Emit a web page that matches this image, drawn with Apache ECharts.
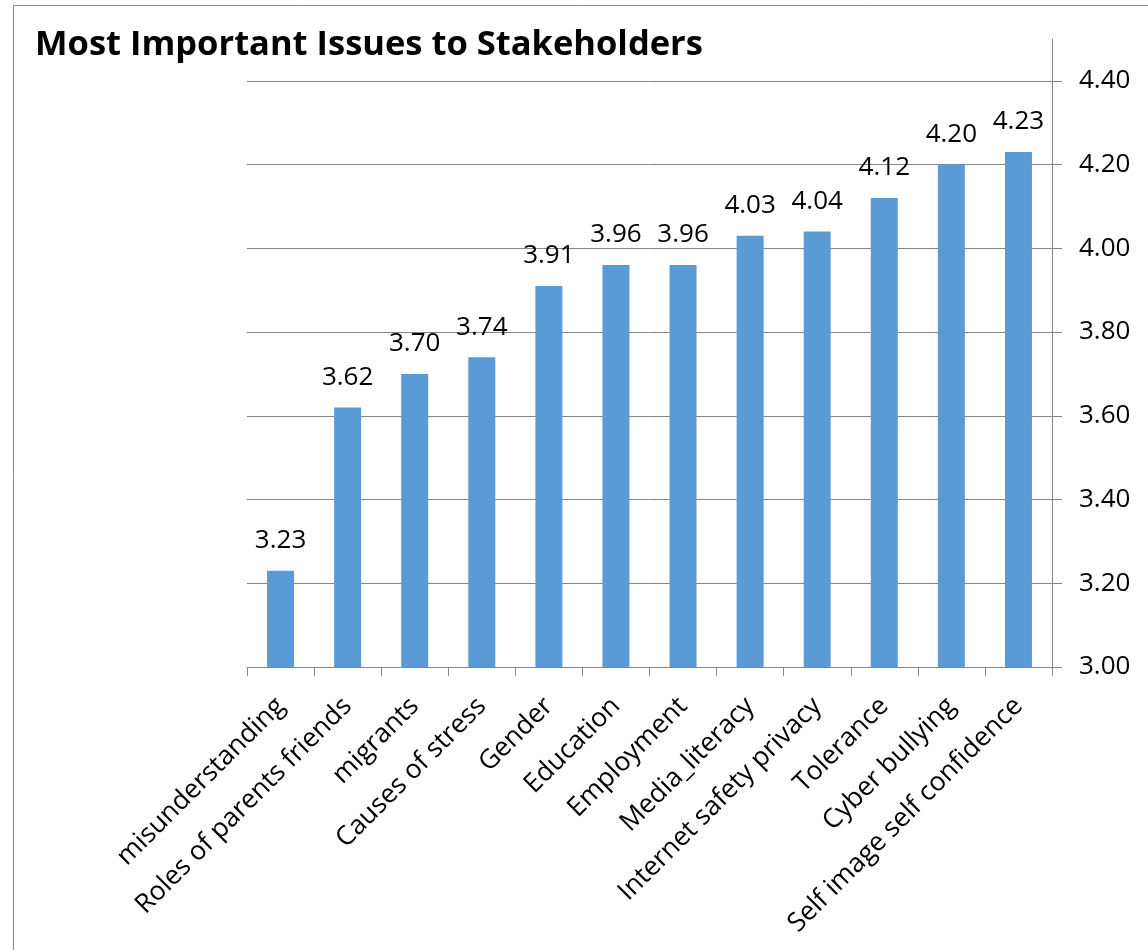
<!DOCTYPE html>
<html>
<head>
<meta charset="utf-8">
<script src="https://cdn.jsdelivr.net/npm/echarts@6/dist/echarts.min.js"></script>
<style>
html,body{margin:0;padding:0;background:#fff;}
#chart{width:1148px;height:950px;}
</style>
</head>
<body>
<div id="chart"></div>
<script>
const title = 'Most Important Issues to Stakeholders';
const categories = ['misunderstanding','Roles of parents friends','migrants','Causes of stress','Gender','Education','Employment','Media_literacy','Internet safety privacy','Tolerance','Cyber bullying','Self image self confidence'];
const values = [3.23,3.62,3.70,3.74,3.91,3.96,3.96,4.03,4.04,4.12,4.20,4.23];
const yTicks = [3.0,3.2,3.4,3.6,3.8,4.0,4.2,4.4];

const FONT = '"Open Sans", sans-serif';
const chart = echarts.init(document.getElementById('chart'), null, {renderer:'canvas'});
chart.setOption({
  backgroundColor:'#fff',
  animation:false,
  title:{
    text:title, left:30, top:23,
    textStyle:{fontFamily:FONT, fontWeight:'bold', fontSize:34.5, color:'#000'}
  },
  graphic:[{
    type:'rect', shape:{x:13.5, y:5.5, width:1200, height:1000},
    style:{fill:null, stroke:'#888', lineWidth:1}, silent:true
  }],
  grid:{left:247, right:96, top:39, bottom:283, containLabel:false},
  xAxis:{
    type:'category', data:categories,
    axisLine:{lineStyle:{color:'#868686', width:1}},
    axisTick:{show:true, alignWithLabel:false, length:9, lineStyle:{color:'#868686'}},
    axisLabel:{rotate:45, interval:0, margin:35, fontFamily:FONT, fontSize:26.5, color:'#000'}
  },
  yAxis:{
    type:'value', position:'right', min:3.0, max:4.5, interval:0.2,
    axisLine:{show:true, lineStyle:{color:'#868686', width:1}},
    axisTick:{show:true, length:10, customValues:yTicks, lineStyle:{color:'#868686'}},
    axisLabel:{customValues:yTicks, margin:27, fontFamily:FONT, fontSize:26, color:'#000',
      formatter:v=>v.toFixed(2)},
    splitLine:{show:true, showMaxLine:true, lineStyle:{color:'#868686', width:1}}
  },
  series:[{
    type:'bar', data:values, barWidth:27,
    itemStyle:{color:'#5B9BD5'},
    label:{show:true, position:'top', distance:17, fontFamily:FONT, fontSize:26, color:'#000',
      formatter:p=>p.value.toFixed(2)}
  }]
});
</script>
</body>
</html>
